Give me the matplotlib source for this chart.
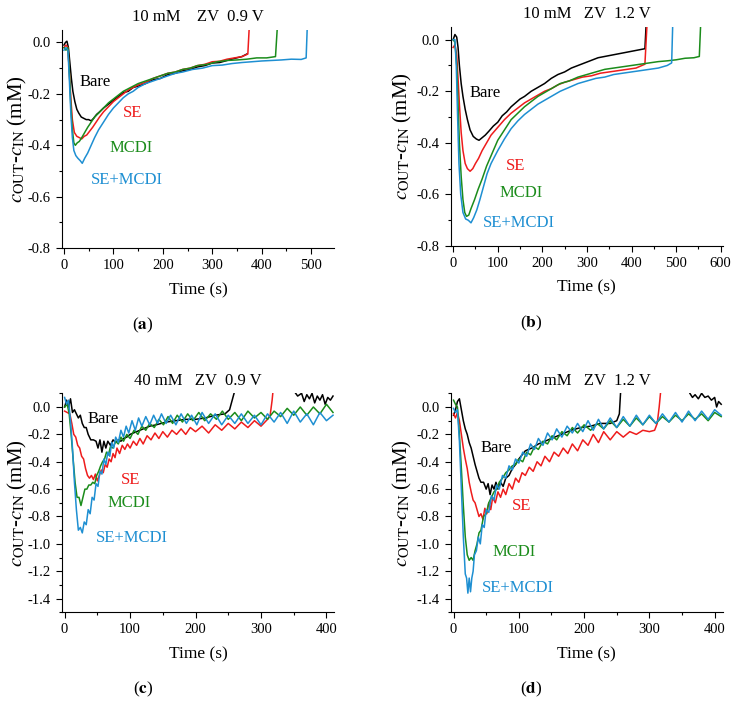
import matplotlib
matplotlib.use("Agg")
import matplotlib.pyplot as plt
from matplotlib.ticker import MultipleLocator

plt.rcParams["font.family"] = ["Liberation Serif", "DejaVu Serif"]
plt.rcParams["mathtext.fontset"] = "stix"

# colours of the four electrode configurations
COLORS = ["black", "#ee1c1c", "#1b8c1b", "#1e8fd2"]
NAMES = ["Bare", "SE", "MCDI", "SE+MCDI"]

# (time s, c_out - c_in mM)
# (a) 10 mM, ZV 0.9 V
A_BARE = [(0, -0.01), (3, 0.0), (6, 0.005), (9, -0.02), (12, -0.08), (15, -0.14), (18, -0.19), (22, -0.23),
          (26, -0.26), (30, -0.275), (35, -0.29), (40, -0.295), (45, -0.30), (50, -0.30), (55, -0.305),
          (60, -0.295), (66, -0.28), (72, -0.27), (80, -0.255), (90, -0.24), (100, -0.225), (110, -0.21),
          (120, -0.195), (130, -0.19), (140, -0.175), (150, -0.17), (165, -0.16), (180, -0.145), (195, -0.14),
          (210, -0.125), (225, -0.12), (240, -0.11), (255, -0.105), (270, -0.095), (285, -0.09), (300, -0.08),
          (315, -0.078), (330, -0.07), (345, -0.062), (360, -0.055), (370, -0.045)]
A_SE = [(0, -0.02), (4, -0.01), (8, -0.02), (11, -0.12), (14, -0.22), (17, -0.30), (21, -0.35), (26, -0.365),
        (31, -0.37), (36, -0.375), (41, -0.365), (46, -0.36), (52, -0.345), (58, -0.33), (65, -0.31),
        (72, -0.29), (80, -0.27), (90, -0.25), (100, -0.23), (110, -0.215), (120, -0.20), (130, -0.185),
        (140, -0.175), (150, -0.165), (165, -0.155), (180, -0.14), (195, -0.13), (210, -0.12), (225, -0.115),
        (240, -0.105), (255, -0.10), (270, -0.09), (285, -0.085), (300, -0.075), (315, -0.073), (330, -0.065),
        (345, -0.06), (360, -0.055), (372, -0.045), (376, 0.1)]
A_MCDI = [(0, -0.02), (4, -0.03), (8, -0.02), (11, -0.12), (14, -0.25), (17, -0.34), (20, -0.39), (23, -0.40),
          (27, -0.39), (31, -0.385), (36, -0.37), (42, -0.35), (48, -0.33), (55, -0.31), (62, -0.29),
          (70, -0.275), (80, -0.255), (90, -0.235), (100, -0.22), (110, -0.205), (120, -0.19), (130, -0.18),
          (140, -0.17), (150, -0.16), (165, -0.15), (180, -0.14), (195, -0.13), (210, -0.12), (225, -0.115),
          (240, -0.105), (255, -0.10), (270, -0.09), (290, -0.085), (310, -0.075), (330, -0.07), (350, -0.068),
          (370, -0.065), (390, -0.06), (410, -0.06), (428, -0.055), (433, 0.1)]
A_SEMCDI = [(0, -0.03), (4, -0.02), (8, -0.03), (11, -0.15), (14, -0.28), (17, -0.37), (20, -0.42), (24, -0.44),
            (28, -0.45), (33, -0.46), (37, -0.47), (42, -0.45), (48, -0.43), (55, -0.40), (62, -0.37),
            (70, -0.34), (80, -0.31), (90, -0.28), (100, -0.255), (110, -0.235), (120, -0.215), (130, -0.20),
            (140, -0.19), (150, -0.175), (165, -0.16), (180, -0.15), (195, -0.14), (210, -0.13), (225, -0.12),
            (240, -0.115), (260, -0.105), (280, -0.10), (300, -0.09), (320, -0.088), (340, -0.082),
            (360, -0.078), (380, -0.075), (400, -0.072), (420, -0.07), (440, -0.068), (460, -0.065),
            (480, -0.066), (490, -0.06), (493, 0.1)]

# (b) 10 mM, ZV 1.2 V
B_BARE = [(0, 0.0), (4, 0.02), (8, 0.01), (11, -0.03), (14, -0.1), (18, -0.17), (22, -0.22), (27, -0.27),
          (32, -0.31), (38, -0.35), (45, -0.375), (52, -0.385), (58, -0.39), (65, -0.38), (72, -0.37),
          (80, -0.355), (90, -0.335), (100, -0.32), (110, -0.295), (120, -0.28), (130, -0.26), (140, -0.245),
          (150, -0.23), (160, -0.22), (175, -0.2), (190, -0.185), (205, -0.17), (220, -0.15), (235, -0.135),
          (250, -0.125), (265, -0.11), (280, -0.1), (295, -0.09), (310, -0.08), (325, -0.07), (340, -0.065),
          (355, -0.06), (370, -0.055), (385, -0.05), (400, -0.045), (415, -0.04), (430, -0.035), (434, 0.1)]
B_SE = [(0, -0.03), (4, -0.02), (8, -0.06), (11, -0.15), (14, -0.25), (18, -0.36), (22, -0.43), (27, -0.48),
        (32, -0.50), (38, -0.51), (44, -0.50), (50, -0.48), (57, -0.46), (65, -0.43), (75, -0.4), (85, -0.37),
        (100, -0.34), (115, -0.31), (130, -0.285), (145, -0.265), (160, -0.245), (175, -0.23), (190, -0.215),
        (205, -0.2), (220, -0.19), (235, -0.175), (250, -0.165), (270, -0.155), (290, -0.145), (310, -0.14),
        (330, -0.13), (350, -0.125), (370, -0.12), (390, -0.115), (410, -0.11), (430, -0.095), (436, 0.1)]
B_MCDI = [(0, 0.0), (4, -0.01), (8, -0.1), (11, -0.25), (14, -0.4), (18, -0.53), (22, -0.62), (26, -0.67),
          (30, -0.685), (35, -0.68), (40, -0.655), (48, -0.62), (56, -0.58), (65, -0.54), (75, -0.49),
          (85, -0.45), (100, -0.39), (115, -0.35), (130, -0.31), (145, -0.285), (160, -0.26), (175, -0.24),
          (190, -0.22), (205, -0.205), (220, -0.19), (240, -0.17), (260, -0.16), (280, -0.145), (300, -0.135),
          (320, -0.125), (340, -0.115), (360, -0.11), (380, -0.105), (400, -0.1), (420, -0.095), (440, -0.09),
          (460, -0.085), (480, -0.082), (500, -0.078), (520, -0.072), (540, -0.07), (552, -0.065), (556, 0.1)]
B_SEMCDI = [(0, 0.0), (4, 0.0), (7, -0.1), (10, -0.3), (13, -0.48), (17, -0.6), (22, -0.67), (28, -0.695),
            (34, -0.70), (40, -0.71), (46, -0.69), (53, -0.66), (60, -0.62), (68, -0.57), (76, -0.52),
            (85, -0.48), (100, -0.43), (115, -0.385), (130, -0.345), (145, -0.315), (160, -0.29), (175, -0.27),
            (190, -0.25), (205, -0.235), (220, -0.22), (240, -0.2), (260, -0.185), (280, -0.17), (300, -0.16),
            (320, -0.15), (340, -0.145), (360, -0.135), (380, -0.13), (400, -0.125), (420, -0.12),
            (440, -0.115), (460, -0.11), (480, -0.1), (490, -0.09), (493, 0.1)]

# (c) 40 mM, ZV 0.9 V
C_BARE = [(0, 0.0), (3, 0.05), (6, 0.0), (9, 0.06), (12, -0.04), (15, -0.02), (18, -0.05), (21, -0.08),
          (24, -0.06), (27, -0.12), (30, -0.15), (33, -0.15), (36, -0.2), (40, -0.24), (44, -0.24),
          (48, -0.25), (51, -0.3), (54, -0.24), (57, -0.33), (60, -0.25), (63, -0.3), (66, -0.25), (70, -0.28),
          (74, -0.24), (78, -0.26), (82, -0.24), (86, -0.25), (90, -0.23), (95, -0.22), (100, -0.2),
          (110, -0.18), (120, -0.16), (130, -0.14), (140, -0.13), (155, -0.11), (170, -0.1), (185, -0.09),
          (200, -0.09), (215, -0.08), (230, -0.06), (245, -0.05), (252, -0.02), (256, 0.05), (260, 0.12),
          (330, 0.3), (350, 0.12), (356, 0.08), (362, 0.1), (366, 0.04), (370, 0.09), (374, 0.06), (378, 0.1),
          (382, 0.03), (386, 0.08), (390, 0.05), (394, 0.09), (398, 0.02), (402, 0.07), (406, 0.05),
          (410, 0.08)]
C_SE = [(0, -0.03), (4, -0.04), (8, -0.05), (11, -0.12), (14, -0.2), (17, -0.22), (20, -0.28), (23, -0.3),
        (26, -0.36), (29, -0.38), (32, -0.45), (35, -0.5), (38, -0.52), (41, -0.5), (44, -0.53), (47, -0.49),
        (50, -0.54), (53, -0.5), (56, -0.46), (59, -0.48), (62, -0.42), (65, -0.44), (68, -0.38), (71, -0.4),
        (74, -0.34), (77, -0.37), (80, -0.3), (84, -0.34), (88, -0.28), (92, -0.31), (96, -0.27), (100, -0.3),
        (105, -0.25), (110, -0.28), (115, -0.23), (120, -0.27), (126, -0.21), (132, -0.24), (138, -0.19),
        (144, -0.23), (150, -0.18), (157, -0.22), (164, -0.17), (171, -0.2), (178, -0.16), (185, -0.2),
        (192, -0.15), (200, -0.18), (210, -0.14), (220, -0.19), (230, -0.13), (240, -0.17), (250, -0.12),
        (260, -0.16), (270, -0.11), (280, -0.15), (290, -0.1), (300, -0.14), (310, -0.09), (314, -0.06),
        (317, 0.05), (320, 0.2)]
C_MCDI = [(0, 0.0), (4, 0.02), (7, -0.05), (10, -0.2), (13, -0.38), (16, -0.55), (19, -0.66), (22, -0.66),
          (25, -0.72), (28, -0.66), (31, -0.6), (34, -0.6), (37, -0.57), (40, -0.57), (43, -0.55), (46, -0.56),
          (49, -0.5), (52, -0.47), (55, -0.43), (58, -0.4), (61, -0.38), (64, -0.33), (67, -0.35), (70, -0.29),
          (74, -0.3), (78, -0.25), (82, -0.27), (86, -0.22), (90, -0.25), (95, -0.2), (100, -0.23),
          (106, -0.17), (112, -0.2), (118, -0.14), (124, -0.17), (130, -0.12), (137, -0.15), (144, -0.09),
          (151, -0.13), (158, -0.07), (165, -0.12), (172, -0.06), (180, -0.11), (188, -0.05), (196, -0.1),
          (205, -0.04), (214, -0.1), (223, -0.05), (232, -0.09), (241, -0.03), (250, -0.09), (260, -0.04),
          (270, -0.1), (280, -0.03), (290, -0.08), (300, -0.04), (310, -0.09), (320, -0.03), (330, -0.07),
          (340, -0.01), (350, -0.06), (360, 0.0), (370, -0.06), (380, 0.0), (390, -0.05), (400, 0.02),
          (410, -0.04)]
C_SEMCDI = [(0, 0.07), (3, 0.02), (6, 0.05), (9, -0.1), (12, -0.3), (15, -0.55), (18, -0.75), (21, -0.9),
            (24, -0.88), (27, -0.92), (30, -0.84), (33, -0.86), (36, -0.75), (39, -0.78), (42, -0.66),
            (45, -0.68), (48, -0.56), (51, -0.58), (54, -0.47), (57, -0.49), (60, -0.38), (63, -0.42),
            (66, -0.33), (69, -0.36), (72, -0.26), (75, -0.3), (78, -0.22), (82, -0.26), (86, -0.17),
            (90, -0.22), (94, -0.14), (98, -0.19), (103, -0.1), (108, -0.17), (113, -0.08), (118, -0.14),
            (124, -0.07), (130, -0.13), (136, -0.06), (142, -0.12), (148, -0.05), (155, -0.12), (162, -0.06),
            (170, -0.13), (178, -0.05), (186, -0.12), (194, -0.06), (202, -0.13), (210, -0.04), (220, -0.12),
            (230, -0.05), (240, -0.13), (250, -0.06), (260, -0.12), (270, -0.05), (280, -0.12), (290, -0.06),
            (300, -0.13), (310, -0.05), (320, -0.11), (330, -0.04), (340, -0.12), (350, -0.03), (360, -0.11),
            (370, -0.05), (380, -0.13), (390, -0.04), (400, -0.1), (410, -0.06)]

# (d) 40 mM, ZV 1.2 V
D_BARE = [(0, -0.06), (3, -0.02), (6, 0.04), (9, 0.06), (12, -0.02), (15, -0.1), (18, -0.16), (21, -0.2),
          (24, -0.26), (27, -0.3), (30, -0.36), (33, -0.42), (36, -0.47), (39, -0.52), (42, -0.55),
          (46, -0.55), (50, -0.6), (53, -0.56), (56, -0.64), (59, -0.57), (62, -0.6), (65, -0.55), (68, -0.6),
          (72, -0.55), (76, -0.58), (80, -0.52), (85, -0.5), (90, -0.45), (95, -0.42), (100, -0.38),
          (105, -0.35), (110, -0.32), (120, -0.3), (130, -0.27), (140, -0.25), (150, -0.23), (165, -0.2),
          (180, -0.17), (195, -0.15), (210, -0.14), (225, -0.12), (240, -0.12), (250, -0.1), (254, -0.05),
          (257, 0.2), (350, 0.3), (362, 0.1), (366, 0.07), (370, 0.09), (375, 0.06), (380, 0.1), (385, 0.07),
          (390, 0.08), (395, 0.05), (400, 0.07), (403, 0.0), (406, 0.04), (410, 0.02)]
D_SE = [(0, -0.05), (3, -0.08), (6, -0.04), (9, -0.1), (12, -0.2), (15, -0.3), (18, -0.38), (21, -0.45),
        (24, -0.55), (27, -0.62), (30, -0.68), (33, -0.7), (36, -0.75), (39, -0.8), (42, -0.78), (45, -0.82),
        (48, -0.74), (51, -0.78), (54, -0.7), (57, -0.75), (60, -0.66), (64, -0.7), (68, -0.62), (72, -0.66),
        (76, -0.6), (80, -0.64), (85, -0.56), (90, -0.6), (95, -0.52), (100, -0.55), (105, -0.48), (110, -0.5),
        (116, -0.44), (122, -0.47), (128, -0.4), (134, -0.43), (140, -0.36), (147, -0.4), (154, -0.33),
        (161, -0.36), (168, -0.3), (175, -0.34), (182, -0.27), (190, -0.32), (198, -0.24), (206, -0.28),
        (214, -0.2), (222, -0.26), (230, -0.18), (240, -0.24), (250, -0.18), (260, -0.22), (270, -0.18),
        (280, -0.2), (290, -0.17), (300, -0.18), (308, -0.17), (312, -0.12), (315, 0.0), (318, 0.15)]
D_MCDI = [(0, 0.05), (3, 0.02), (6, 0.0), (9, -0.2), (12, -0.45), (15, -0.72), (18, -0.95), (21, -1.08),
          (24, -1.12), (27, -1.1), (30, -1.12), (33, -1.05), (36, -1.0), (39, -0.92), (42, -0.9), (46, -0.8),
          (50, -0.78), (54, -0.7), (58, -0.66), (62, -0.62), (66, -0.6), (70, -0.55), (75, -0.52), (80, -0.48),
          (85, -0.46), (90, -0.43), (95, -0.42), (100, -0.38), (106, -0.4), (112, -0.33), (118, -0.35),
          (124, -0.29), (130, -0.31), (137, -0.25), (144, -0.27), (151, -0.21), (158, -0.24), (166, -0.18),
          (174, -0.21), (182, -0.15), (190, -0.19), (200, -0.13), (210, -0.17), (220, -0.12), (230, -0.16),
          (240, -0.1), (250, -0.15), (260, -0.09), (270, -0.14), (280, -0.08), (290, -0.13), (300, -0.07),
          (310, -0.12), (320, -0.07), (330, -0.11), (340, -0.06), (350, -0.1), (360, -0.05), (370, -0.09),
          (380, -0.05), (390, -0.1), (400, -0.04), (410, -0.07)]
D_SEMCDI = [(0, -0.01), (3, -0.04), (6, -0.02), (9, -0.25), (12, -0.6), (15, -0.95), (18, -1.22), (20, -1.25),
            (22, -1.36), (24, -1.25), (26, -1.35), (28, -1.25), (30, -1.2), (32, -1.08), (35, -1.05),
            (38, -0.95), (41, -1.0), (44, -0.86), (47, -0.88), (50, -0.75), (54, -0.77), (58, -0.65),
            (62, -0.68), (66, -0.57), (70, -0.6), (75, -0.5), (80, -0.52), (85, -0.43), (90, -0.46),
            (95, -0.38), (100, -0.41), (106, -0.33), (112, -0.36), (118, -0.27), (124, -0.31), (130, -0.23),
            (137, -0.28), (144, -0.19), (151, -0.24), (158, -0.16), (166, -0.22), (174, -0.14), (182, -0.19),
            (190, -0.12), (198, -0.18), (206, -0.1), (214, -0.17), (222, -0.09), (230, -0.16), (240, -0.08),
            (250, -0.15), (260, -0.07), (270, -0.14), (280, -0.06), (290, -0.13), (300, -0.06), (310, -0.12),
            (320, -0.05), (330, -0.11), (340, -0.04), (350, -0.11), (360, -0.03), (370, -0.1), (380, -0.03),
            (390, -0.09), (400, -0.02), (410, -0.06)]

TITLES = ["10 mM    ZV  0.9 V", "10 mM   ZV  1.2 V", "40 mM   ZV  0.9 V", "40 mM   ZV  1.2 V"]
LETTERS = ["a", "b", "c", "d"]
SERIES = [[A_BARE, A_SE, A_MCDI, A_SEMCDI],
          [B_BARE, B_SE, B_MCDI, B_SEMCDI],
          [C_BARE, C_SE, C_MCDI, C_SEMCDI],
          [D_BARE, D_SE, D_MCDI, D_SEMCDI]]
# where the curve names sit (time, value)
LABEL_POS = [[(32, -0.155), (120, -0.276), (93, -0.41), (55, -0.535)],
             [(37, -0.208), (119, -0.489), (105, -0.596), (67, -0.71)],
             [(35, -0.091), (86, -0.53), (65, -0.705), (47, -0.954)],
             [(41, -0.30), (90, -0.725), (60, -1.058), (43, -1.32)]]

XLIMS = [(-4, 547), (-5, 604), (-4, 412), (-4, 412)]
YLIMS = [(-0.8, 0.05), (-0.8, 0.05), (-1.5, 0.1), (-1.5, 0.1)]
XMAX_TICK = [500, 600, 400, 400]

fig = plt.figure(figsize=(7.38, 7.05), dpi=100)
boxes = [[0.084, 0.648, 0.369, 0.310],
         [0.611, 0.651, 0.368, 0.311],
         [0.084, 0.1315, 0.369, 0.3106],
         [0.611, 0.1315, 0.368, 0.3106]]
ylab_x = [-0.12, -0.136, -0.12, -0.136]

for i in range(4):
    ax = fig.add_axes(boxes[i])
    for data, col in zip(SERIES[i], COLORS):
        t, v = zip(*data)
        ax.plot(t, v, color=col, lw=1.1)
    for name, col, (tx, ty) in zip(NAMES, COLORS, LABEL_POS[i]):
        ax.text(tx, ty, name, color=col, fontsize=12, ha="left", va="center")

    ax.set_xlim(*XLIMS[i])
    ax.set_ylim(*YLIMS[i])
    ax.set_xticks(range(0, XMAX_TICK[i] + 1, 100))
    ax.xaxis.set_minor_locator(MultipleLocator(50))
    ax.yaxis.set_major_locator(MultipleLocator(0.2))
    ax.yaxis.set_minor_locator(MultipleLocator(0.1))
    ax.yaxis.set_major_formatter(plt.FuncFormatter(lambda y, p: f"{y:.1f}".replace("-0.0", "0.0")))
    ax.tick_params(which="both", direction="out", labelsize=10.5, width=0.8)
    ax.tick_params(which="major", length=4.5)
    ax.tick_params(which="minor", length=2.5)
    for s in ["top", "right"]:
        ax.spines[s].set_visible(False)
    ax.set_xlabel("Time (s)", fontsize=12.5, labelpad=7)
    ax.set_ylabel(r"$c_{\rm OUT}$-$c_{\rm IN}$ (mM)", fontsize=15)
    ax.yaxis.set_label_coords(ylab_x[i], 0.5)
    ax.set_title(TITLES[i], fontsize=12, pad=6)

    b = boxes[i]
    fig.text(b[0] + b[2] / 2 - 0.075, b[1] - 0.11, rf"($\mathbf{{{LETTERS[i]}}}$)",
             ha="center", va="center", fontsize=12.5)

fig.savefig("out.png", dpi=100)
